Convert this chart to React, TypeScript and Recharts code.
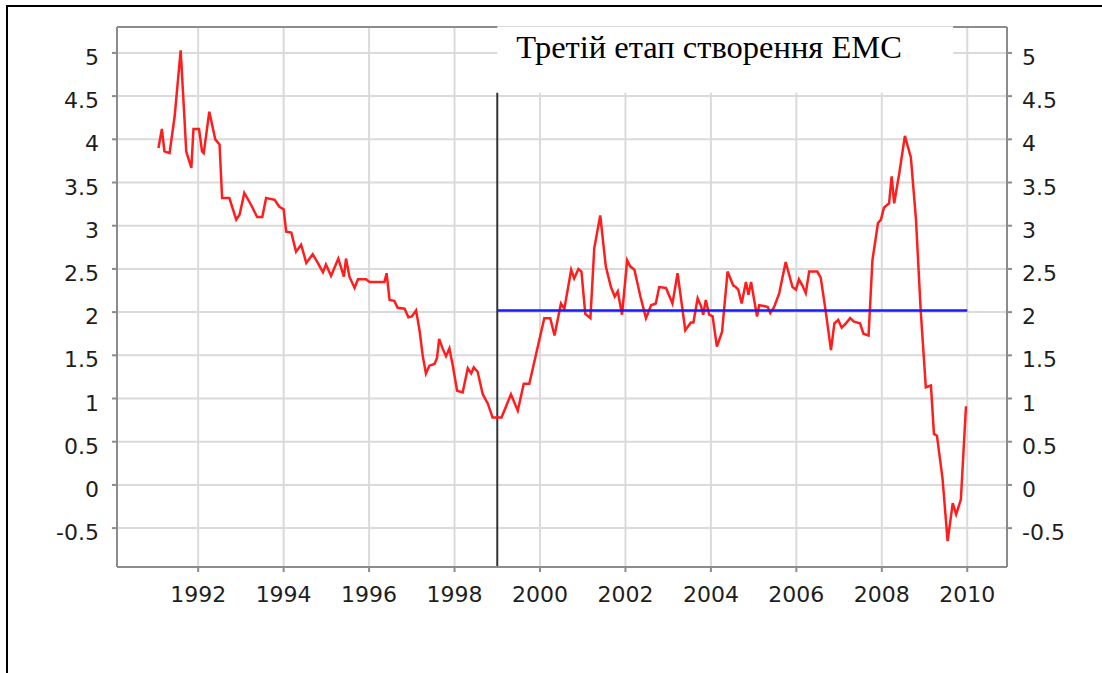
import React from 'react';
import { LineChart, Line, XAxis, YAxis, CartesianGrid, ReferenceArea, ReferenceLine } from 'recharts';

// monthly-ish readings of the inflation curve (year, %)
const years = [
  1991.07, 1991.15, 1991.21, 1991.33, 1991.45, 1991.59, 1991.68, 1991.72, 1991.84, 1991.89,
  1992.02, 1992.09, 1992.13, 1992.26, 1992.4, 1992.5, 1992.56, 1992.73, 1992.89, 1992.97,
  1993.08, 1993.24, 1993.38, 1993.5, 1993.59, 1993.79, 1993.9, 1994.0, 1994.06, 1994.18,
  1994.29, 1994.41, 1994.53, 1994.68, 1994.8, 1994.92, 1994.99, 1995.11, 1995.28, 1995.41,
  1995.46, 1995.54, 1995.66, 1995.74, 1995.93, 1996.01, 1996.36, 1996.41, 1996.48, 1996.59,
  1996.67, 1996.83, 1996.92, 1997.0, 1997.1, 1997.18, 1997.26, 1997.33, 1997.41, 1997.53,
  1997.59, 1997.64, 1997.72, 1997.8, 1997.88, 1997.96, 1998.06, 1998.19, 1998.31, 1998.39,
  1998.45, 1998.54, 1998.66, 1998.78, 1998.89, 1999.1, 1999.32, 1999.48, 1999.62, 1999.75,
  2000.1, 2000.24, 2000.34, 2000.49, 2000.57, 2000.73, 2000.8, 2000.9, 2000.97, 2001.06,
  2001.18, 2001.27, 2001.41, 2001.54, 2001.66, 2001.75, 2001.82, 2001.92, 2002.04, 2002.11,
  2002.21, 2002.35, 2002.48, 2002.6, 2002.71, 2002.79, 2002.95, 2003.1, 2003.22, 2003.4,
  2003.53, 2003.59, 2003.69, 2003.77, 2003.82, 2003.88, 2003.96, 2004.04, 2004.14, 2004.26,
  2004.39, 2004.52, 2004.58, 2004.64, 2004.72, 2004.82, 2004.88, 2004.94, 2005.08, 2005.13,
  2005.25, 2005.33, 2005.39, 2005.48, 2005.6, 2005.75, 2005.91, 2005.99, 2006.06, 2006.14,
  2006.22, 2006.3, 2006.49, 2006.57, 2006.69, 2006.81, 2006.89, 2006.98, 2007.06, 2007.16,
  2007.26, 2007.35, 2007.49, 2007.57, 2007.69, 2007.78, 2007.91, 2007.98, 2008.05, 2008.17,
  2008.23, 2008.29, 2008.41, 2008.54, 2008.68, 2008.8, 2008.91, 2009.03, 2009.15, 2009.22,
  2009.29, 2009.42, 2009.54, 2009.66, 2009.74, 2009.85, 2009.97,
];

const rates = [
  3.9, 4.12, 3.86, 3.84, 4.27, 5.03, 4.23, 3.86, 3.67, 4.12,
  4.12, 3.86, 3.84, 4.32, 4.0, 3.94, 3.32, 3.32, 3.07, 3.13,
  3.38, 3.24, 3.1, 3.1, 3.32, 3.3, 3.22, 3.19, 2.93, 2.92,
  2.7, 2.78, 2.57, 2.67, 2.57, 2.46, 2.55, 2.42, 2.62, 2.41,
  2.62, 2.41, 2.28, 2.38, 2.38, 2.35, 2.35, 2.45, 2.14, 2.13,
  2.05, 2.04, 1.94, 1.95, 2.02, 1.79, 1.48, 1.29, 1.38, 1.4,
  1.47, 1.69, 1.58, 1.49, 1.58, 1.38, 1.09, 1.07, 1.35, 1.29,
  1.36, 1.31, 1.05, 0.94, 0.78, 0.78, 1.05, 0.86, 1.17, 1.17,
  1.93, 1.93, 1.73, 2.1, 2.04, 2.49, 2.39, 2.5, 2.47, 1.98,
  1.93, 2.74, 3.12, 2.53, 2.29, 2.18, 2.24, 1.97, 2.6, 2.53,
  2.49, 2.18, 1.93, 2.08, 2.1, 2.29, 2.28, 2.1, 2.45, 1.79,
  1.88, 1.88, 2.16, 2.07, 1.97, 2.14, 1.97, 1.95, 1.6, 1.77,
  2.47, 2.31, 2.29, 2.26, 2.1, 2.35, 2.2, 2.35, 1.95, 2.08,
  2.07, 2.06, 1.99, 2.06, 2.22, 2.58, 2.29, 2.26, 2.38, 2.31,
  2.22, 2.47, 2.47, 2.4, 2.0, 1.56, 1.87, 1.91, 1.82, 1.87,
  1.93, 1.89, 1.87, 1.75, 1.73, 2.6, 3.03, 3.07, 3.21, 3.26,
  3.57, 3.26, 3.61, 4.04, 3.79, 3.07, 2.02, 1.13, 1.15, 0.59,
  0.57, 0.08, -0.65, -0.21, -0.34, -0.17, 0.91,
];

// average over the third stage
const avgYears = [1999, 2010];
const avgRates = [2.02, 2.02];

const xTicks = [1992, 1994, 1996, 1998, 2000, 2002, 2004, 2006, 2008, 2010];
const yTicks = [-0.5, 0, 0.5, 1, 1.5, 2, 2.5, 3, 3.5, 4, 4.5, 5];

const stageStart = 1999;
const stageLabel = 'Третій етап створення ЕМС';

const X_DOMAIN: [number, number] = [1990.1, 2010.93];
const Y_DOMAIN: [number, number] = [-0.95, 5.3];

const rateData = years.map((year, i) => ({ year, rate: rates[i] }));
const avgData = avgYears.map((year, i) => ({ year, rate: avgRates[i] }));

const tickFont = { fontFamily: '"DejaVu Sans", sans-serif', fontSize: 22, fill: '#1e1e1e' };
const axisColor = '#8c8c8c';

function XTick({ x, y, payload }: any) {
  return (
    <text x={x} y={y} dy={16} textAnchor="middle" {...tickFont}>
      {payload.value}
    </text>
  );
}

function YTick({ x, y, payload, textAnchor }: any) {
  return (
    <text x={x} y={y} dy={12} textAnchor={textAnchor} {...tickFont}>
      {payload.value}
    </text>
  );
}

function StageLabel({ viewBox }: any) {
  if (!viewBox) return null;
  return (
    <text
      x={viewBox.x + 19}
      y={viewBox.y + 31}
      fontFamily='"Liberation Serif", "Times New Roman", serif'
      fontSize={32.5}
      fill="#000"
    >
      {stageLabel}
    </text>
  );
}

export default function App() {
  return (
    <div style={{ position: 'absolute', left: 0, top: 0, width: 1102, height: 673, background: '#fff' }}>
      <div
        style={{
          position: 'absolute', left: 6, top: 5, right: 0, bottom: 0,
          borderTop: '2px solid #000', borderLeft: '2px solid #000',
        }}
      />
      <div style={{ position: 'absolute', left: 0, top: 0 }}>
        <LineChart width={1102} height={673} data={rateData} margin={{ top: 27, right: 35, left: 57, bottom: 66 }}>
          <CartesianGrid stroke="#dadada" strokeWidth={2} />
          <XAxis
            dataKey="year"
            type="number"
            domain={X_DOMAIN}
            allowDataOverflow
            ticks={xTicks}
            interval={0}
            height={40}
            tickSize={5}
            tickMargin={14}
            axisLine={{ stroke: axisColor, strokeWidth: 2 }}
            tickLine={{ stroke: axisColor, strokeWidth: 2 }}
            tick={<XTick />}
          />
          <YAxis
            type="number"
            domain={Y_DOMAIN}
            allowDataOverflow
            ticks={yTicks}
            interval={0}
            width={60}
            tickSize={5}
            tickMargin={13}
            axisLine={{ stroke: axisColor, strokeWidth: 2 }}
            tickLine={{ stroke: axisColor, strokeWidth: 2 }}
            tick={<YTick />}
          />
          <YAxis
            yAxisId="right"
            orientation="right"
            type="number"
            domain={Y_DOMAIN}
            allowDataOverflow
            ticks={yTicks}
            interval={0}
            width={60}
            tickSize={5}
            tickMargin={10}
            axisLine={{ stroke: axisColor, strokeWidth: 2 }}
            tickLine={{ stroke: axisColor, strokeWidth: 2 }}
            tick={<YTick />}
          />
          <ReferenceArea
            x1={stageStart}
            x2={2009.67}
            y1={4.54}
            y2={Y_DOMAIN[1]}
            fill="#fff"
            fillOpacity={1}
            stroke="none"
            ifOverflow="visible"
            label={<StageLabel />}
          />
          <ReferenceLine
            segment={[{ x: X_DOMAIN[0], y: Y_DOMAIN[1] }, { x: stageStart, y: Y_DOMAIN[1] }]}
            stroke={axisColor}
            strokeWidth={2}
            ifOverflow="visible"
          />
          <ReferenceLine
            segment={[{ x: 2009.67, y: Y_DOMAIN[1] }, { x: X_DOMAIN[1], y: Y_DOMAIN[1] }]}
            stroke={axisColor}
            strokeWidth={2}
            ifOverflow="visible"
          />
          <ReferenceLine
            segment={[{ x: stageStart, y: Y_DOMAIN[0] }, { x: stageStart, y: 4.54 }]}
            stroke="#333"
            strokeWidth={2}
            ifOverflow="visible"
          />
          <Line
            dataKey="rate"
            stroke="#ff1e1e"
            strokeWidth={2.5}
            dot={false}
            type="linear"
            isAnimationActive={false}
          />
          <Line
            data={avgData}
            dataKey="rate"
            stroke="#1a1aff"
            strokeWidth={2.5}
            dot={false}
            type="linear"
            isAnimationActive={false}
          />
        </LineChart>
      </div>
    </div>
  );
}
